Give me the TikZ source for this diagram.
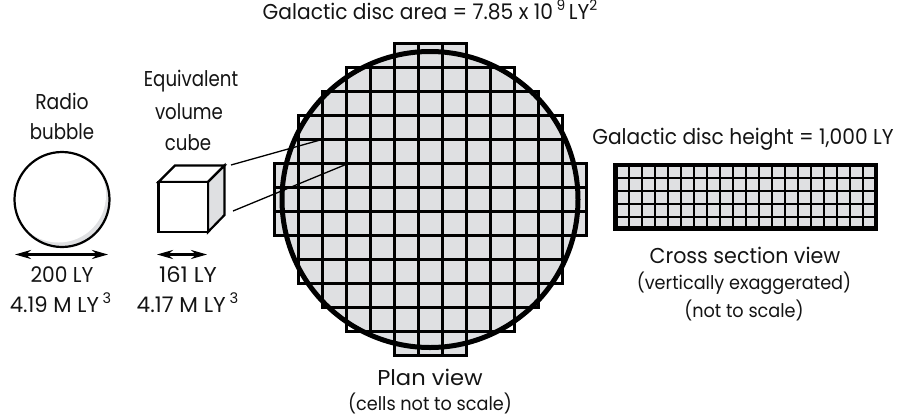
\documentclass[tikz,border=0pt]{standalone}
\usepackage{fontspec}
\usetikzlibrary{arrows.meta}
\setmainfont[FakeStretch=0.94]{Poppins}
\definecolor{cellgray}{HTML}{DFE0E2}
\newcommand{\sups}[1]{\raisebox{0.42em}{\scalebox{0.68}{#1}}}
\newcommand{\wdsc}[2]{\scalebox{#1}[1]{#2}}
\begin{document}
\begin{tikzpicture}[x=1pt,y=-1pt,
  lbl/.style={inner sep=0pt,text=black!92,font=\fontsize{21.5}{24}\selectfont},
  lblsmall/.style={inner sep=0pt,text=black!92,font=\fontsize{18.8}{22}\selectfont},
  gridline/.style={line width=3pt,draw=black},
  thinline/.style={line width=1.3pt,draw=black},
  outline/.style={line width=2.2pt,draw=black,line join=miter},
  dbl/.style={line width=2.4pt,{Stealth[length=16pt,width=9pt]}-{Stealth[length=16pt,width=9pt]}}]
\useasboundingbox (0,0) rectangle (898,416);
% radio bubble
\fill[cellgray] (62,199.5) circle (47.5);
\begin{scope}
\clip (62,199.5) circle (47.5);
\fill[white] (58.5,195) circle (47.5);
\end{scope}
\draw[outline] (62,199.5) circle (47.5);
\coordinate (bl) at (15,254.5); \coordinate (br) at (108,254.5);
\draw[dbl] (bl) -- (br);
% cube
\draw[outline,fill=white] (158.5,182) -- (175,165.5) -- (224.5,165.5) -- (208,182) -- cycle;
\draw[outline,fill=cellgray] (208,182) -- (224.5,165.5) -- (224.5,215) -- (208,232) -- cycle;
\draw[outline,fill=white] (158.5,182) rectangle (208,232);
\coordinate (cl) at (157,254.5); \coordinate (cr) at (207,254.5);
\draw[dbl] (cl) -- (cr);
% plan gray
\fill[cellgray] (430,199.5) circle (148);
\fill[cellgray] (394,43.5) rectangle (466,355.5);
\fill[cellgray] (274,163.5) rectangle (586,235.5);
% plan grid
\foreach \r/\h in {0/1.5,1/3.5,2/4.5,3/5.5,4/5.5,5/6.5,6/6.5,7/6.5,8/5.5,9/5.5,10/4.5,11/3.5,12/1.5}{
  \pgfmathsetmacro{\yt}{43.5+24*\r}
  \pgfmathsetmacro{\yb}{\yt+24}
  \pgfmathsetmacro{\xa}{430-24*\h}
  \pgfmathsetmacro{\xb}{430+24*\h}
  \draw[gridline] (\xa,\yt) rectangle (\xb,\yb);
  \pgfmathsetmacro{\n}{int(2*\h-1)}
  \foreach \c in {1,...,\n}{
    \draw[gridline] ({\xa+24*\c},\yt) -- ({\xa+24*\c},\yb);
  }
}
% connector lines
\coordinate (c1) at (231,165); \coordinate (c2) at (322,139.5);
\coordinate (c3) at (233,211); \coordinate (c4) at (347,164);
\draw[thinline] (c1) -- (c2);
\draw[thinline] (c3) -- (c4);
\draw[line width=5pt] (430,199.5) circle (148);
% cross section
\fill[cellgray] (615.5,165) rectangle (876,228.5);
\foreach \k in {0,...,18}{\draw[line width=2.3pt] ({628.7+13*\k},165) -- ({628.7+13*\k},228.5);}
\foreach \y in {177.7,190.7,203.7,216.7}{\draw[line width=2.3pt] (615.5,\y) -- (876,\y);}
\draw[line width=4.5pt] (615.5,165) rectangle (876,228.5);
% text
\node[lbl] (t0) at (430,10) {Galactic disc area = 7.85 x 10\,\sups{9}\,LY\sups{2}};
\node[lbl] (t1) at (62,101) {\wdsc{0.93}{Radio}};
\node[lbl] (t2) at (62,132) {\wdsc{0.9}{bubble}};
\node[lbl] (t3) at (191,81) {\wdsc{0.9}{Equivalent}};
\node[lbl] (t4) at (189,112) {\wdsc{0.9}{volume}};
\node[lbl] (t5) at (188,143) {\wdsc{0.9}{cube}};
\node[lbl] (t6) at (62,275) {200 LY};
\node[lbl] (t7) at (60.5,303) {\wdsc{1.05}{4.19 M LY\,\sups{3}}};
\node[lbl] (t8) at (188,275) {\wdsc{1.12}{161 LY}};
\node[lbl] (t9) at (187.5,303) {\wdsc{1.07}{4.17 M LY\,\sups{3}}};
\node[lbl] (t10) at (743,139) {Galactic disc height = 1,000 LY};
\node[lbl] (t11) at (745,255) {\wdsc{1.02}{Cross section view}};
\node[lblsmall] (t12) at (744,283) {(vertically exaggerated)};
\node[lblsmall] (t13) at (744,310) {(not to scale)};
\node[lbl] (t14) at (430,377) {\wdsc{1.12}{Plan view}};
\node[lblsmall] (t15) at (430,403) {(cells not to scale)};
\end{tikzpicture}
\end{document}
